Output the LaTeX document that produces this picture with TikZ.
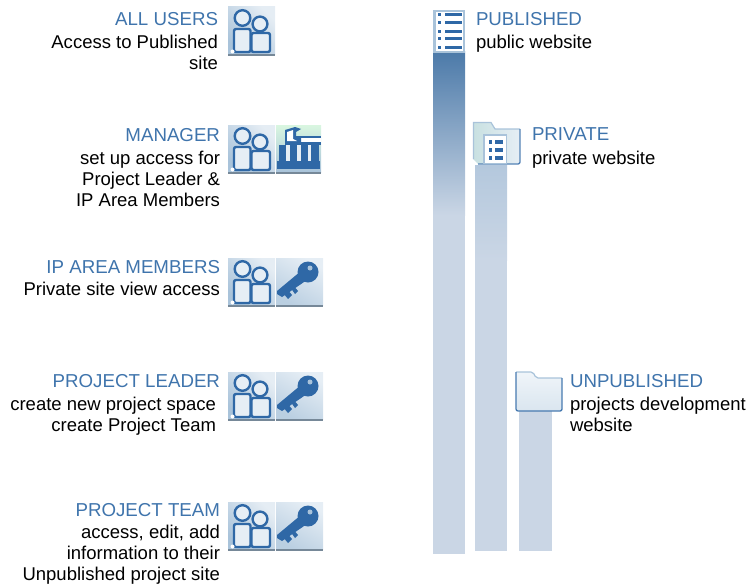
\documentclass[tikz,border=0pt]{standalone}
\usepackage{fontspec}
\setmainfont{Liberation Sans}
\definecolor{hdblue}{HTML}{3F74AC}
\definecolor{icondark}{HTML}{2F68A6}
\definecolor{iconlight}{HTML}{E6EEF5}
\definecolor{iconmid}{HTML}{A9C3DA}
\definecolor{barpale}{HTML}{CAD6E5}
\definecolor{bardark}{HTML}{4C7AA9}
\definecolor{barmid}{HTML}{B4C8DD}
\tikzset{
  x=1pt,y=-1pt,
  every node/.style={inner sep=0pt,outer sep=0pt,font=\fontsize{18.5}{21}\selectfont,text=black},
  hd/.style={text=hdblue,font=\fontsize{18.7}{21}\selectfont},
  lefttext/.style={anchor=north east,align=right},
  righttext/.style={anchor=north west,align=left},
  manbody/.style={draw=icondark,line width=2.4pt,fill=iconlight,rounded corners=2pt},
  pics/people/.style={code={
    \shade[left color=iconmid,right color=iconmid!30!white,shading angle=135,draw=none] (0,0) rectangle (47,47);
    \fill[iconmid!70!black] (0,47) rectangle (47,48.5);
    \draw[manbody] (6,45) -- (6,22) -- (22.5,22) -- (22.5,45) -- cycle;
    \draw[manbody] (14.5,11) circle[radius=7.8];
    \draw[manbody] (23.5,45) -- (23.5,26) -- (42,26) -- (42,45) -- cycle;
    \draw[manbody] (32,17) circle[radius=7.4];
    \fill[white] (4.5,44.5) circle[radius=2];
  }},
  pics/keyicon/.style={code={
    \shade[left color=iconmid!80!white,right color=iconlight,shading angle=150,draw=none] (0,0) rectangle (47,47);
    \fill[iconmid!70!black] (0,47) rectangle (47,48.5);
    \fill[icondark] (32,14) circle[radius=10.5];
    \fill[iconmid] (34,10) circle[radius=2.5];
    \fill[icondark] (25,13) -- (31,22) -- (9,37) -- (6,39) -- (1,36) -- (1,33) -- cycle;
    \fill[icondark] (11,31) -- (16,37) -- (12,41) -- (7,35) -- cycle;
    \fill[icondark] (17,27) -- (22,33) -- (19,36) -- (14,29) -- cycle;
  }},
  pics/tools/.style={code={
    \shade[top color=iconmid!60!green!25!white,bottom color=iconmid,draw=none] (0,0) rectangle (45,47);
    \fill[iconmid!70!black] (0,47) rectangle (45,48.5);
    \fill[icondark] (1,36) rectangle (44,44);
    \fill[icondark] (3,20) rectangle (10,37);
    \fill[icondark] (14,20) rectangle (21,37);
    \fill[icondark] (25,20) rectangle (32,37);
    \fill[icondark] (35,20) rectangle (43,37);
    \fill[iconlight] (10,20) rectangle (14,36);
    \fill[iconlight] (21,20) rectangle (25,36);
    \fill[iconlight] (32,20) rectangle (35,36);
    \fill[icondark] (9,11) rectangle (45,20);
    \fill[white] (15,12.5) rectangle (45,17);
    \fill[icondark] (9,5) -- (19,2) -- (25,4) -- (20,7) -- (20,11) -- (25,13) -- (25,19) -- (9,20) -- cycle;
    \fill[white] (11,7) -- (17,5) -- (17,14) -- (21,16) -- (11,16) -- cycle;
  }},
  pics/listicon/.style={code={
    \fill[iconmid] (0,0) rectangle (32,43);
    \fill[white] (3,2) rectangle (29.5,41);
    \foreach \yy in {5,13,21.5,29,37.5}{
      \fill[icondark] (5,\yy-1.5) rectangle (8,\yy+1.5);
      \fill[icondark] (12,\yy-1.5) rectangle (29,\yy+1.5);
    }
  }},
  pics/foldericon/.style={code={
    \shade[top color=iconlight!60!white,bottom color=iconlight!80!iconmid,draw=none] (1,2) -- (18,2) -- (21,8) -- (47,8) -- (47,41) -- (1,41) -- cycle;
    \draw[iconmid,line width=1.2pt,rounded corners=2pt] (1,2) -- (18,2) -- (21,8) -- (47,8);
    \draw[icondark!80!iconmid,line width=1.3pt,rounded corners=2pt] (1,2) -- (1,41) -- (47,41) -- (47,8);
  }},
  pics/privicon/.style={code={
    \shade[left color=green!8!iconmid!55!white,right color=iconlight,draw=none] (0,0) -- (18,0) -- (22,7) -- (47,7) -- (47,42) -- (5,42) -- (0,37) -- cycle;
    \draw[iconmid,line width=1.2pt] (0.5,37) -- (0.5,0.5) -- (18,0.5) -- (22,7) -- (47,7);
    \draw[icondark!70!iconmid,line width=1.3pt,rounded corners=2pt] (5,42) -- (47,42) -- (47,7);
    \fill[iconmid] (10,12) rectangle (34,42);
    \fill[white] (11.5,13.5) rectangle (32.5,40.5);
    \foreach \yy in {20,28,36}{
      \fill[icondark] (15.5,\yy-1.6) rectangle (18.5,\yy+1.6);
      \fill[icondark] (22,\yy-1.6) rectangle (30,\yy+1.6);
    }
  }},
}
\begin{document}
\begin{tikzpicture}
\useasboundingbox (0,0) rectangle (751,586);
% bars
\shade[top color=bardark,bottom color=barpale,draw=none] (433,52) rectangle (465,215);
\fill[barpale] (433,215) rectangle (465,554);
\shade[top color=barmid,bottom color=barpale,draw=none] (475,165) rectangle (507,260);
\fill[barpale] (475,260) rectangle (507,551);
\fill[barpale] (519,410) rectangle (552,551);
% icons
\pic (iu) at (228,7) {people};
\pic (im) at (228,125) {people};
\pic (it) at (276,125) {tools};
\pic (ia) at (228,258) {people};
\pic (ika) at (276,258) {keyicon};
\pic (il) at (228,372) {people};
\pic (ikl) at (276,372) {keyicon};
\pic (ip) at (228,502) {people};
\pic (ikp) at (276,502) {keyicon};
\pic (ipub) at (433,10) {listicon};
\pic (ipriv) at (473,122) {privicon};
\pic (iunp) at (515,370) {foldericon};
% left texts
\node[hd,anchor=north east] (t1) at (218,12) {ALL USERS};
\node[lefttext] (d1) at (218,35) {Access to Published\\site};
\node[hd,anchor=north east] (t2) at (220,128) {MANAGER};
\node[lefttext] (d2) at (220,151) {set up access for\\Project Leader \&\\IP Area Members};
\node[hd,anchor=north east] (t3) at (220,260) {IP AREA MEMBERS};
\node[lefttext] (d3) at (220,282) {Private site view access};
\node[hd,anchor=north east] (t4) at (220,374) {PROJECT LEADER};
\node[lefttext] (d4) at (216,397) {create new project space\\create Project Team};
\node[hd,anchor=north east] (t5) at (220,503) {PROJECT TEAM};
\node[lefttext] (d5) at (220,525) {access, edit, add\\information to their\\Unpublished project site};
% right texts
\node[hd,anchor=north west] (r1) at (476,12) {PUBLISHED};
\node[righttext] (r1d) at (476,35) {public website};
\node[hd,anchor=north west] (r2) at (532,128) {PRIVATE};
\node[righttext] (r2d) at (532,151) {private website};
\node[hd,anchor=north west] (r3) at (570,374) {UNPUBLISHED};
\node[righttext] (r3d) at (570,397) {projects development\\website};
\end{tikzpicture}
\end{document}
